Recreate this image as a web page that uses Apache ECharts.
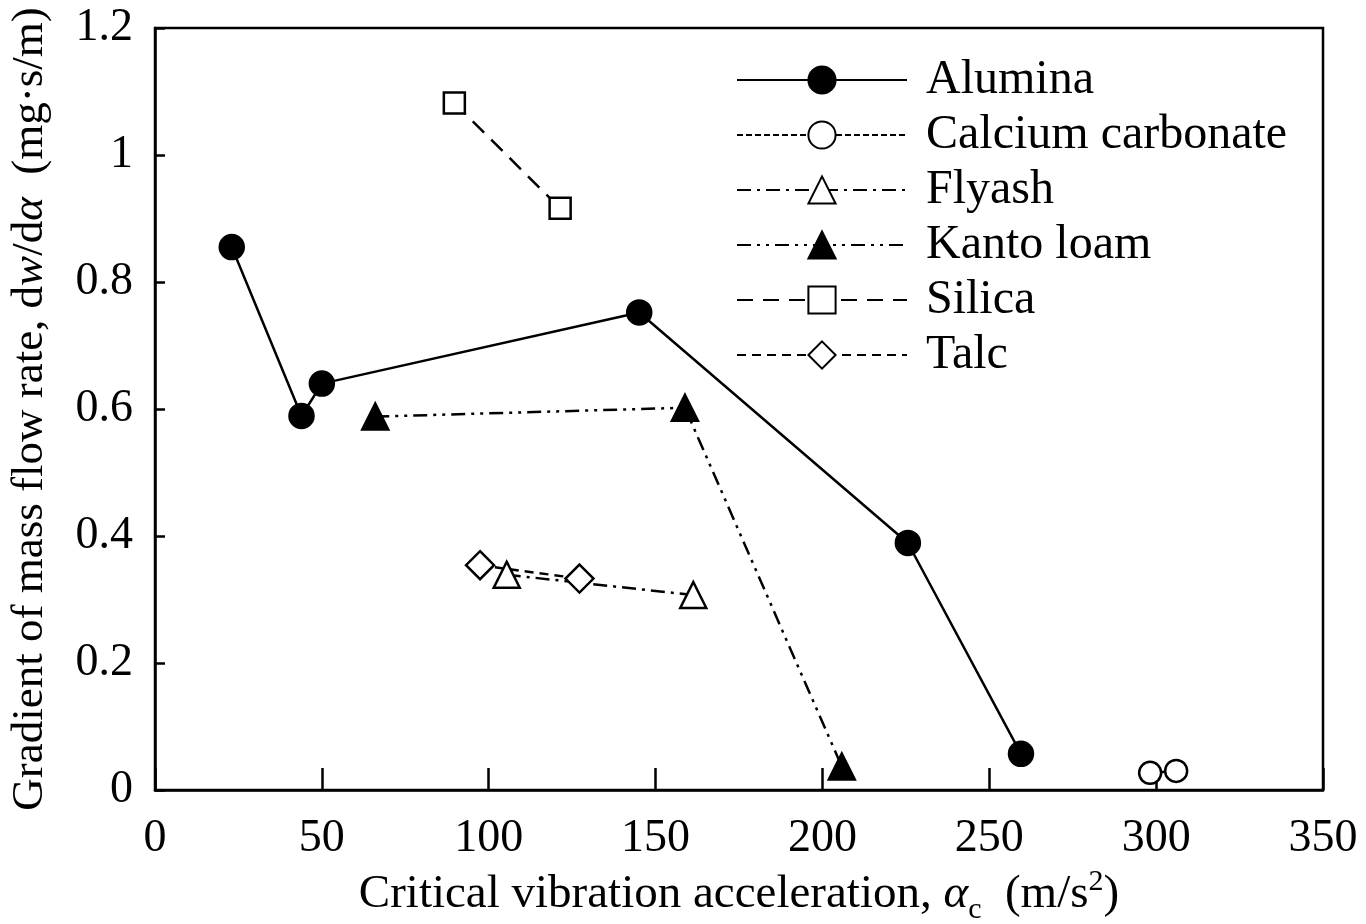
<!DOCTYPE html>
<html>
<head>
<meta charset="utf-8">
<script src="https://cdn.jsdelivr.net/npm/echarts@6/dist/echarts.min.js"></script>
<style>
  html, body { margin: 0; padding: 0; background: #fff; }
  #chart { width: 1366px; height: 924px; }
</style>
</head>
<body>
<div id="chart"></div>
<script>
var aluminaX = [23.0, 43.9, 50.0, 145.1, 225.6, 259.5];
var aluminaY = [0.855, 0.589, 0.640, 0.752, 0.389, 0.057];
var calciumX = [298.2, 306.0];
var calciumY = [0.027, 0.030];
var flyashX = [105.4, 161.3];
var flyashY = [0.339, 0.307];
var kantoX = [66.0, 158.8, 205.8];
var kantoY = [0.588, 0.602, 0.037];
var silicaX = [89.7, 121.4];
var silicaY = [1.082, 0.916];
var talcX = [97.4, 127.2];
var talcY = [0.354, 0.333];

function pairs(xs, ys) {
  return xs.map(function (x, i) { return [x, ys[i]]; });
}

var font = 'Liberation Serif';
var chart = echarts.init(document.getElementById('chart'));

function mk(name, xs, ys, symbol, size, filled, dash) {
  return {
    name: name,
    type: 'line',
    data: pairs(xs, ys),
    symbol: symbol,
    symbolSize: size,
    showAllSymbol: true,
    color: '#000',
    itemStyle: {
      color: filled ? '#000' : '#fff',
      borderColor: '#000',
      borderWidth: 2.5
    },
    lineStyle: { color: '#000', width: 2.5, type: dash },
    emphasis: { disabled: true },
    z: 3
  };
}

var option = {
  animation: false,
  backgroundColor: '#fff',
  grid: {
    left: 155, right: 43, top: 28, bottom: 134,
    outerBoundsMode: 'none',
    show: true, borderColor: '#000', borderWidth: 2.5, backgroundColor: 'transparent'
  },
  legend: {
    orient: 'vertical',
    left: 731, top: 50,
    itemWidth: 170, itemHeight: 34, itemGap: 5,
    textStyle: { fontFamily: font, fontSize: 48, lineHeight: 50, color: '#000', padding: [0, 0, 0, 14] },
    data: ['Alumina', 'Calcium carbonate', 'Flyash', 'Kanto loam', 'Silica', 'Talc']
  },
  xAxis: {
    type: 'value', min: 0, max: 350, interval: 50,
    axisLine: { lineStyle: { color: '#000', width: 2.5 } },
    axisTick: { inside: true, length: 22, lineStyle: { color: '#000', width: 2.5 } },
    splitLine: { show: false },
    axisLabel: { fontFamily: font, fontSize: 46, color: '#000', margin: 26 },
    name: 'Critical vibration acceleration, {i|α}{sub|c}  (m/s{sup|2})',
    nameLocation: 'middle', nameGap: 78,
    nameTextStyle: {
      fontFamily: font, fontSize: 47, color: '#000', lineHeight: 52,
      rich: {
        i: { fontFamily: font, fontSize: 47, fontStyle: 'italic', lineHeight: 52 },
        sub: { fontFamily: font, fontSize: 30, verticalAlign: 'bottom', lineHeight: 52, padding: [0, 0, -4, 0] },
        sup: { fontFamily: font, fontSize: 30, verticalAlign: 'top', lineHeight: 52, padding: [-2, 0, 0, 0] }
      }
    }
  },
  yAxis: {
    type: 'value', min: 0, max: 1.2, interval: 0.2,
    axisLine: { lineStyle: { color: '#000', width: 2.5 } },
    axisTick: { inside: true, length: 10, lineStyle: { color: '#000', width: 2.5 } },
    splitLine: { show: false },
    axisLabel: { fontFamily: font, fontSize: 46, color: '#000', margin: 22 },
    name: 'Gradient of mass flow rate, d{i|w}/d{i|α}  (mg·s/m)',
    nameLocation: 'middle', nameGap: 102,
    nameTextStyle: {
      fontFamily: font, fontSize: 45, color: '#000',
      rich: { i: { fontFamily: font, fontSize: 45, fontStyle: 'italic' } }
    }
  },
  series: [
    mk('Alumina', aluminaX, aluminaY, 'circle', 24, true, 'solid'),
    mk('Calcium carbonate', calciumX, calciumY, 'circle', 22, false, [6, 3]),
    mk('Flyash', flyashX, flyashY, 'triangle', 26, false, [14, 6, 3, 6]),
    mk('Kanto loam', kantoX, kantoY, 'triangle', 26, true, [14, 6, 3, 6, 3, 6]),
    mk('Silica', silicaX, silicaY, 'rect', 21, false, [16, 10]),
    mk('Talc', talcX, talcY, 'diamond', 28, false, [9, 6])
  ]
};

option && chart.setOption(option);
</script>
</body>
</html>
